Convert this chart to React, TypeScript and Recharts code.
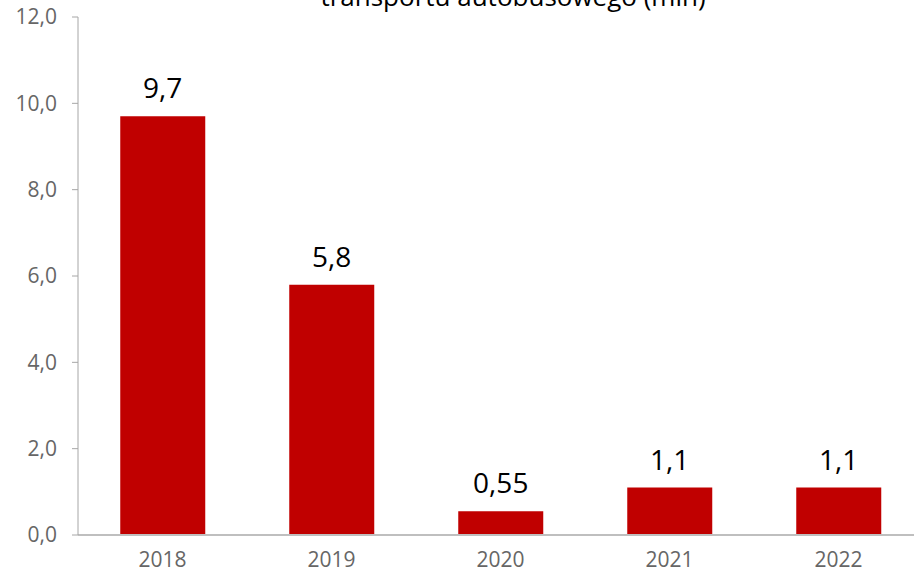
import { BarChart, Bar, XAxis, YAxis, LabelList } from 'recharts';

const years = ['2018', '2019', '2020', '2021', '2022'];
const values = [9.7, 5.8, 0.55, 1.1, 1.1];
const yTicks = [0, 2, 4, 6, 8, 10, 12];

const data = years.map((year, i) => ({ year, value: values[i] }));

const font = '"Open Sans", "Noto Sans", sans-serif';

export default function App() {
  return (
    <div style={{ position: 'absolute', left: 0, top: 0, width: 914, height: 575, overflow: 'hidden', background: '#fff', fontFamily: font }}>
      <BarChart
        width={923}
        height={575}
        data={data}
        margin={{ top: 17, right: 0, bottom: 0, left: 0 }}
        barCategoryGap="25%"
      >
        <XAxis
          dataKey="year"
          tickLine={false}
          axisLine={{ stroke: '#BFBFBF', strokeWidth: 2 }}
          tick={{ fill: '#666666', fontSize: 21, fontFamily: font }}
          tickMargin={11}
          height={40}
        />
        <YAxis
          domain={[0, 12]}
          ticks={yTicks}
          interval={0}
          width={78}
          tickFormatter={(v: number) => v.toFixed(1).replace('.', ',')}
          axisLine={{ stroke: '#A6A6A6' }}
          tickLine={{ stroke: '#A6A6A6' }}
          tickSize={6}
          tickMargin={15}
          tick={{ fill: '#666666', fontSize: 21, fontFamily: font }}
        />
        <Bar dataKey="value" fill="#C00000" isAnimationActive={false}>
          <LabelList
            dataKey="value"
            position="top"
            offset={18}
            formatter={(v: number) => String(v).replace('.', ',')}
            style={{ fill: '#000', fontSize: 28, fontFamily: font }}
          />
        </Bar>
      </BarChart>
      <div
        style={{
          position: 'absolute',
          left: 513,
          top: -22,
          transform: 'translateX(-50%)',
          fontSize: 26,
          lineHeight: '36px',
          color: '#000',
          whiteSpace: 'nowrap',
        }}
      >
        transportu autobusowego (mln)
      </div>
    </div>
  );
}
